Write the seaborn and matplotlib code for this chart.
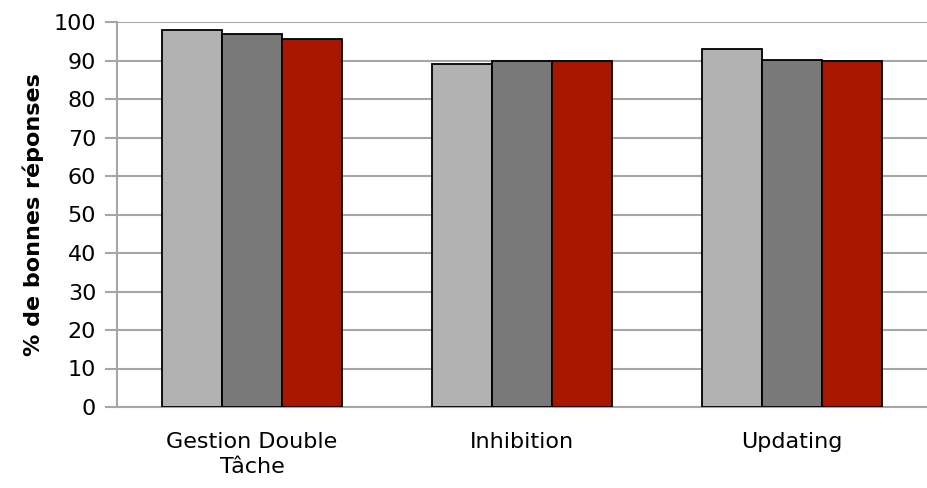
import matplotlib
matplotlib.use("Agg")
import matplotlib.pyplot as plt
import seaborn as sns
import pandas as pd

categories = ["Gestion Double\nTâche", "Inhibition", "Updating"]
series_names = ["Série 1", "Série 2", "Série 3"]
serie1 = [98.0, 89.1, 93.0]
serie2 = [96.8, 89.9, 90.1]
serie3 = [95.5, 89.9, 89.9]
colors = ["#B2B2B2", "#797979", "#A81600"]
yticks = list(range(0, 101, 10))

rows = []
for name, vals in zip(series_names, [serie1, serie2, serie3]):
    for c, v in zip(categories, vals):
        rows.append({"cat": c, "serie": name, "val": v})
df = pd.DataFrame(rows)

sns.set_theme(style="white")
plt.rcParams["font.family"] = ["DejaVu Sans"]

fig = plt.figure(figsize=(9.27, 4.88), dpi=100)
ax = fig.add_axes([117/927, 81/488, 1 - 117/927, (407-22)/488])

sns.barplot(data=df, x="cat", y="val", hue="serie", order=categories,
            hue_order=series_names, palette=colors, saturation=1,
            width=0.667, gap=0,
            edgecolor="black", linewidth=1.3, legend=False, ax=ax, zorder=3)

ax.set_ylim(0, 100)
ax.set_xlim(-0.5, 2.5)
ax.set_yticks(yticks)
ax.yaxis.grid(True, color="#A6A6A6", linewidth=1.5, zorder=0)
ax.set_axisbelow(True)
for s in ["top", "right"]:
    ax.spines[s].set_visible(False)
for s in ["left", "bottom"]:
    ax.spines[s].set_color("#A6A6A6")
    ax.spines[s].set_linewidth(1.5)
ax.tick_params(axis="y", which="both", left=True, length=9, width=1.5,
               color="#A6A6A6", labelsize=16, pad=6, labelcolor="black")
ax.tick_params(axis="x", bottom=False, labelsize=16, pad=12, labelcolor="black")
for lbl in ax.get_xticklabels():
    lbl.set_linespacing(1.3)
ax.set_xlabel("")
ax.set_ylabel("% de bonnes réponses", fontsize=16, fontweight="bold", labelpad=7, color="black")

fig.savefig("out.png", dpi=100)
